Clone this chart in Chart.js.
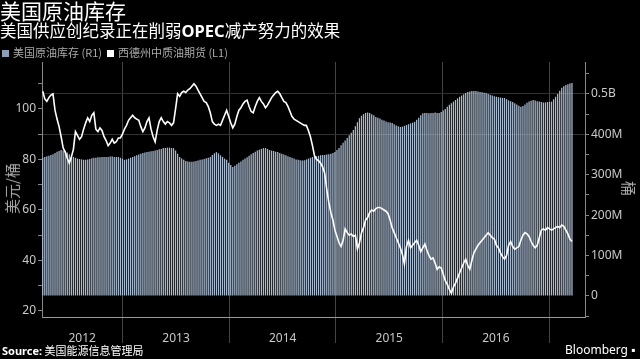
<!DOCTYPE html>
<html>
<head>
<meta charset="utf-8">
<script src="https://cdn.jsdelivr.net/npm/chart.js@4"></script>
<style>
  body { margin:0; background:#000; width:640px; height:359px; overflow:hidden; position:relative;
         font-family:"Noto Sans CJK SC","Noto Sans",sans-serif; color:#fff; }
  #box { position:absolute; left:0; top:0; width:640px; height:359px; }
  .t { position:absolute; white-space:nowrap; line-height:1; }
  #title  { left:0; top:0px; font-size:21px; }
  #sub    { left:0; top:22px; font-size:16.5px; }
  #sub b  { font-family:"Noto Sans",sans-serif; font-weight:bold; }
  #legend { left:2px; top:47px; font-size:11px; color:#aaa; }
  #legend i { display:inline-block; width:7px; height:7px; margin-right:4px; vertical-align:0px; }
  #ylab   { left:-14px; top:181px; font-size:15px; color:#aaa; transform:rotate(-90deg); }
  #rlab   { left:622px; top:181px; font-size:15px; color:#aaa; transform:rotate(90deg); }
  #src    { left:2px; top:345px; font-size:11px; color:#fff; }
  #src b  { font-family:"Noto Sans",sans-serif; }
  #bbg    { left:565px; top:344px; font-size:12px; color:#fff; font-family:"Noto Sans",sans-serif; }
</style>
</head>
<body>
<div id="box"><canvas id="c" width="640" height="359"></canvas></div>
<div class="t" id="title">美国原油库存</div>
<div class="t" id="sub">美国供应创纪录正在削弱<b>OPEC</b>减产努力的效果</div>
<div class="t" id="legend"><i style="background:#8a9bb3"></i>美国原油库存 (R1)&nbsp;&nbsp;<i style="background:#fff"></i>西德州中质油期货 (L1)</div>
<div class="t" id="ylab">美元/桶</div>
<div class="t" id="rlab">桶</div>
<div class="t" id="src"><b>Source:</b> 美国能源信息管理局</div>
<div class="t" id="bbg">Bloomberg ▪</div>
<script>
// ---- Daten (woechentlich ab Anfang April 2012) ----
const weekStart = 2012.25;
const weekStep  = 7 / 365.25;

// WTI, USD/Barrel (linke Achse)
const wtiPrice = [
  107, 104, 103, 104.5, 105.5, 106, 99.5, 96, 93, 89,
  84.5, 83, 80.5, 78.5, 81, 84, 91, 89.5, 88, 89,
  92, 94.5, 96.5, 95, 97.5, 98.5, 92, 91, 92.5, 91.5,
  89, 87.5, 85.5, 86.5, 88, 86.5, 87, 88.5, 88.5, 90,
  92, 93.5, 95.5, 96.5, 97.5, 96.5, 96, 95.5, 93, 91,
  92.5, 95, 96.5, 92, 89, 87, 91.5, 95, 96.5, 95,
  94, 95, 94.5, 93.5, 94.5, 100, 106, 105, 106.5, 107,
  106.5, 107.5, 108, 109, 110, 109, 107.5, 106, 104.5, 103,
  102.5, 101, 98.5, 95, 94, 93.5, 94, 93.5, 95.5, 97.5,
  99.5, 97, 94.5, 92.5, 94, 97, 99.5, 100.5, 102, 103,
  103.5, 101, 99, 98.5, 101, 103, 104.5, 103, 102, 100.5,
  101.5, 103, 104.5, 105.5, 106.5, 107, 106, 104.5, 103, 102.5,
  101, 99, 97, 96, 95.5, 95, 94.5, 94, 93.5, 93.5,
  91.5, 89, 85.5, 81.5, 80, 79.5, 78.5, 77, 74.5, 68,
  63, 59, 56, 52, 49.5, 47, 45.5, 48, 52.5, 51,
  50, 50.5, 49.5, 50, 44.5, 47, 51, 53, 56, 57,
  59, 60, 59.5, 60.5, 61, 61, 60.5, 60, 59.5, 58.5,
  56, 53, 51, 49, 47, 45, 42.5, 38.5, 45.5, 48,
  45, 46, 47, 48, 46, 43.5, 45, 46.5, 44, 42,
  40.5, 41, 39, 36.5, 37.5, 37, 34.5, 32, 30.5, 28.5,
  27, 29.5, 31, 33, 35, 37, 39, 40.5, 38, 36.5,
  40, 43, 44.5, 46, 47, 48, 49, 50, 51, 50,
  49, 48.5, 46, 45, 43, 41.5, 40.5, 42, 46, 47.5,
  45.5, 44.5, 45, 45.5, 48, 50, 51, 50.5, 49.5, 47.5,
  46, 45, 46, 49, 52, 52.5, 52, 53, 52.5, 52,
  52.5, 53, 53.5, 53, 54, 53.5, 52, 50.5, 48.5, 47.5
];

// US-Rohoelbestand, Mio. Barrel (rechte Achse)
const crudeStocks = [
  342, 344, 346, 347, 349, 351, 354, 357, 359, 361,
  360, 358, 355, 351, 347, 344, 342, 340, 339, 338,
  337, 337, 338, 339, 341, 342, 342, 343, 343, 344,
  344, 344, 344, 345, 345, 344, 344, 344, 342, 340,
  337, 338, 340, 342, 344, 346, 348, 350, 352, 354,
  355, 356, 357, 358, 359, 360, 361, 363, 364, 366,
  366, 367, 367, 366, 366, 360, 352, 344, 340, 337,
  334, 333, 332, 332, 333, 334, 335, 337, 338, 339,
  341, 342, 344, 349, 353, 356, 353, 348, 344, 340,
  337, 330, 324, 319, 322, 326, 330, 333, 337, 340,
  343, 347, 351, 354, 357, 360, 362, 364, 366, 366,
  364, 361, 360, 359, 357, 356, 354, 352, 350, 348,
  346, 344, 342, 340, 338, 337, 336, 335, 336, 338,
  340, 342, 344, 345, 346, 347, 348, 349, 349, 350,
  351, 352, 354, 356, 361, 366, 373, 379, 385, 391,
  398, 404, 411, 420, 430, 440, 446, 450, 453, 454,
  453, 450, 447, 443, 441, 439, 436, 434, 432, 430,
  429, 428, 425, 422, 420, 418, 419, 421, 423, 425,
  427, 429, 431, 436, 441, 447, 452, 453, 453, 452,
  453, 453, 454, 453, 453, 455, 459, 463, 468, 473,
  477, 481, 485, 489, 493, 496, 499, 502, 505, 506,
  507, 507, 507, 506, 505, 504, 503, 502, 500, 498,
  496, 494, 493, 492, 491, 490, 490, 487, 484, 482,
  480, 477, 474, 471, 468, 470, 474, 478, 481, 483,
  485, 484, 482, 481, 480, 479, 479, 480, 480, 481,
  487, 493, 500, 508, 515, 519, 522, 524, 526, 527
];

// Achsen
const yearLines   = [2013, 2014, 2015, 2016, 2017];
const yearLabelAt = [2012.62, 2013.5, 2014.5, 2015.5, 2016.5];
const xMin = 2012.243, xMax = 2017.336;
const leftMin = 17.6, leftMax = 118.6;
const rightMin = -52, rightMax = 579;
const rightLabels = { 0: "0", 100: "100M", 200: "200M", 300: "300M", 400: "400M", 500: "0.5B" };

const toPts = (arr) => arr.map((v, i) => ({ x: weekStart + i * weekStep, y: v }));

Chart.defaults.font.family = '"Noto Sans", sans-serif';
Chart.defaults.color = "#c8c8c8";

new Chart(document.getElementById("c"), {
  type: "bar",
  data: {
    datasets: [
      { type: "line", label: "西德州中质油期货 (L1)", data: toPts(wtiPrice), yAxisID: "yL",
        borderColor: "#fff", borderWidth: 1.6, pointRadius: 0, tension: 0, order: 0 },
      { type: "bar", label: "美国原油库存 (R1)", data: toPts(crudeStocks), yAxisID: "yR",
        backgroundColor: "#a9bbd1", barPercentage: 0.62, categoryPercentage: 1, order: 1 }
    ]
  },
  options: {
    responsive: false,
    animation: false,
    layout: { padding: { top: 62, left: 0, right: 0, bottom: 0 } },
    plugins: { legend: { display: false }, tooltip: { enabled: false } },
    scales: {
      x: {
        type: "linear", min: xMin, max: xMax, offset: false,
        afterFit: (s) => { s.height = 42; },
        afterBuildTicks: (s) => {
          s.ticks = [...yearLines, ...yearLabelAt].sort((a, b) => a - b).map(v => ({ value: v }));
        },
        grid: {
          offset: false,
          color: (c) => Number.isInteger(c.tick?.value) ? "#444" : "rgba(0,0,0,0)",
          tickLength: 26
        },
        border: { color: "#9a9a9a" },
        ticks: {
          autoSkip: false, maxRotation: 0, padding: -12,
          font: { size: 12 },
          callback: (v) => Number.isInteger(v) ? "" : String(Math.floor(v))
        }
      },
      yL: {
        position: "left", min: leftMin, max: leftMax,
        afterFit: (s) => { s.width = 42; },
        grid: { drawOnChartArea: false, tickLength: 4, color: "#888" },
        border: { color: "#888" },
        ticks: {
          stepSize: 10, includeBounds: false, padding: 2, font: { size: 12 },
          callback: (v) => (v % 20 === 0 ? String(v) : "")
        }
      },
      yR: {
        position: "right", min: rightMin, max: rightMax,
        afterFit: (s) => { s.width = 55; },
        grid: {
          tickLength: 4, tickColor: "#888",
          color: (c) => (c.tick && c.tick.value % 100 === 0 && c.tick.value >= 400) ? "#333" : "rgba(0,0,0,0)"
        },
        border: { color: "#888" },
        ticks: {
          stepSize: 50, includeBounds: false, padding: 2, font: { size: 12 },
          callback: (v) => rightLabels[v] ?? ""
        }
      }
    }
  }
});
</script>
</body>
</html>
